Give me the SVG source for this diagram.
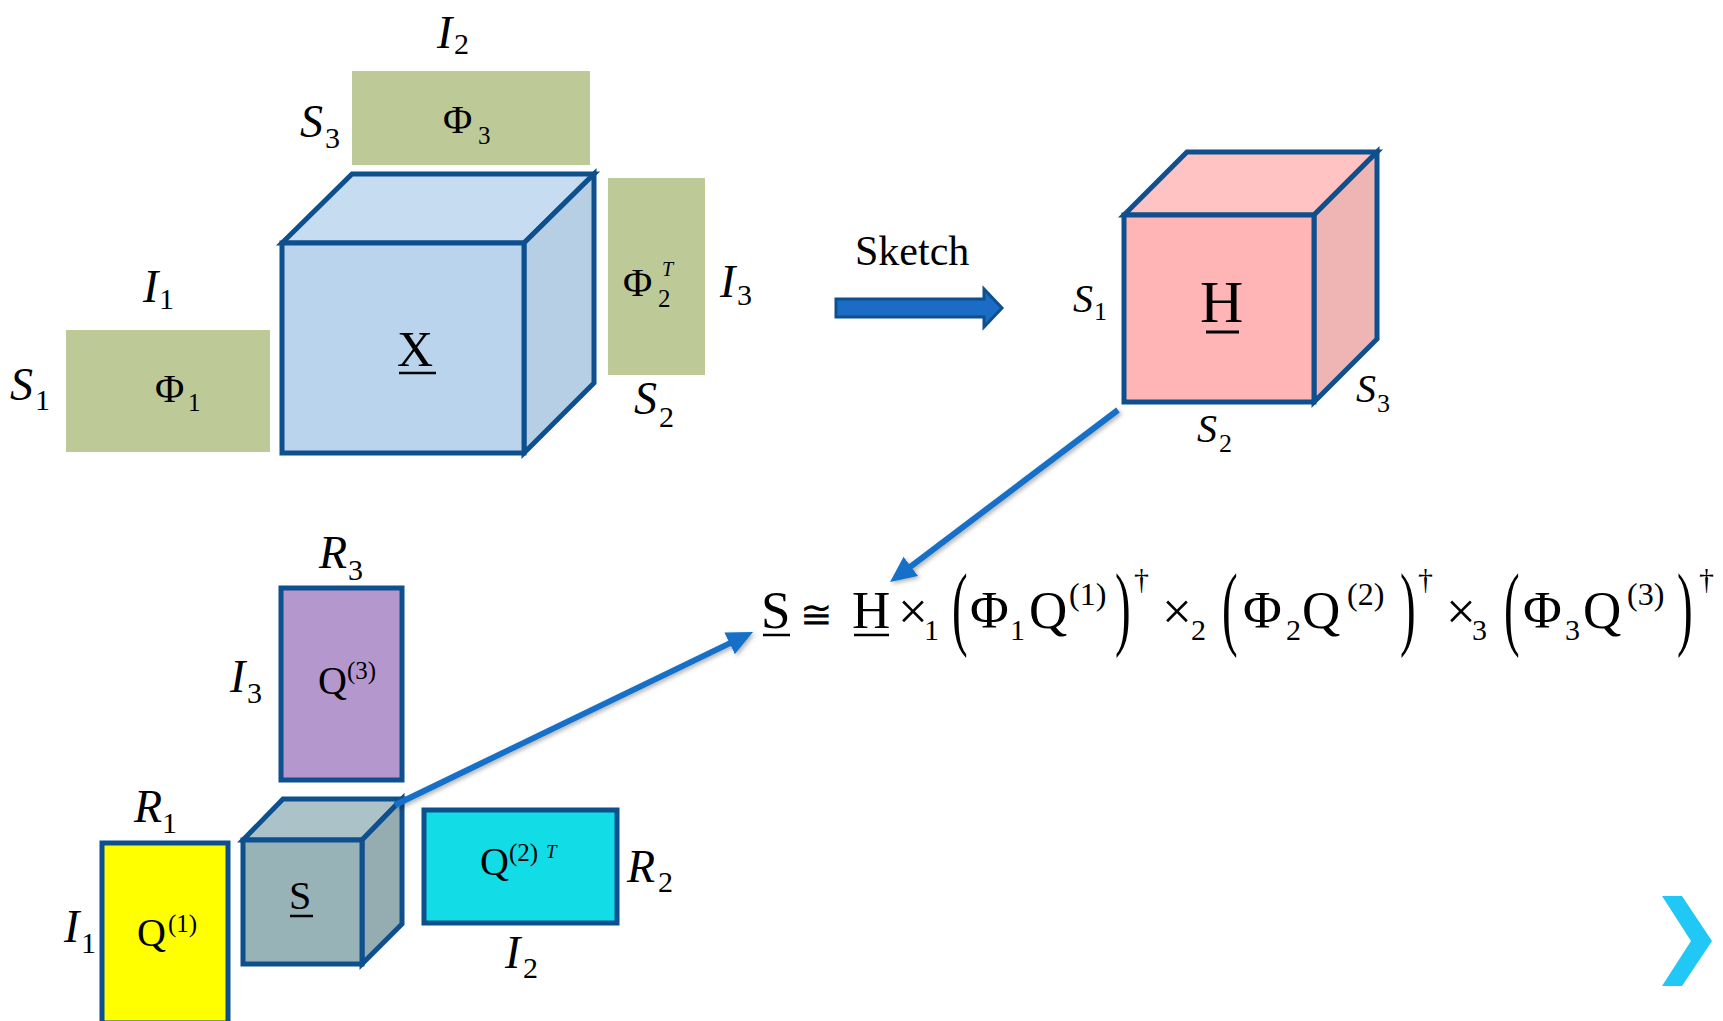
<svg xmlns="http://www.w3.org/2000/svg" width="1723" height="1021" viewBox="0 0 1723 1021">
<defs>
<style>
text{font-family:"Liberation Serif","Times New Roman","DejaVu Serif",serif;fill:#000}
.lab{font-style:italic;font-size:46px}
.lab .s{font-style:normal;font-size:30px}
.hl{font-style:italic;font-size:40px}
.hl .s{font-style:normal;font-size:26px}
.phi{font-size:40px}
.phi .s{font-size:25px}
.q{font-size:40px}
.q .s{font-size:25px}
.eq{font-size:53px}
.es{font-size:30px}
.ep{font-size:32px}
.big{font-size:94px}
.green{fill:#BDC996}
.edge{stroke:#0E4F8E;stroke-width:5;stroke-linejoin:miter}
.ul{stroke:#000;stroke-width:2.5}
.conn{stroke:#1570C8;stroke-width:6;fill:none}
</style>
<marker id="ah" markerUnits="userSpaceOnUse" markerWidth="26" markerHeight="24" viewBox="0 0 26 24" refX="4" refY="12" orient="auto">
<path d="M0,0 L26,12 L0,24 z" fill="#1570C8"/>
</marker>
<filter id="sh" x="-10%" y="-10%" width="130%" height="130%">
<feDropShadow dx="2" dy="2" stdDeviation="2" flood-color="#000" flood-opacity="0.3"/>
</filter>
</defs>

<!-- Top-left: tensor X with sketch matrices -->
<g id="phi3">
<rect class="green" x="352" y="71" width="238" height="94"/>
<text class="phi" x="443" y="133">Φ<tspan class="s" x="478" y="144">3</tspan></text>
</g>
<g id="phi1">
<rect class="green" x="66" y="330" width="204" height="122"/>
<text class="phi" x="155" y="402">Φ<tspan class="s" x="188" y="411">1</tspan></text>
</g>
<g id="phi2T">
<rect class="green" x="608" y="178" width="97" height="197"/>
<text class="phi" x="623" y="296">Φ<tspan class="s" x="658" y="307">2</tspan></text>
<text x="662" y="276" style="font-style:italic;font-size:20px">T</text>
</g>
<g id="cubeX">
<polygon points="282,243 352,174 594,174 524,243" fill="#C6DCF0" class="edge"/>
<polygon points="524,243 594,174 594,383 524,453" fill="#B7CFE5" class="edge"/>
<rect x="282" y="243" width="242" height="210" fill="#B9D4EC" class="edge"/>
<text x="397" y="366" style="font-size:50px">X</text>
<line class="ul" x1="399" y1="373" x2="436" y2="373"/>
</g>
<g id="labels-top">
<text class="lab" x="437" y="48">I<tspan class="s" x="454" y="54">2</tspan></text>
<text class="lab" x="300" y="137">S<tspan class="s" x="325" y="148">3</tspan></text>
<text class="lab" x="143" y="302">I<tspan class="s" x="159" y="309">1</tspan></text>
<text class="lab" x="10" y="400">S<tspan class="s" x="35" y="410">1</tspan></text>
<text class="lab" x="720" y="297">I<tspan class="s" x="737" y="305">3</tspan></text>
<text class="lab" x="634" y="414">S<tspan class="s" x="659" y="427">2</tspan></text>
</g>

<!-- Sketch arrow -->
<g id="sketch">
<polygon points="836,299 984,299 984,289 1002,308 984,327 984,317 836,317" fill="#1A6CC4" stroke="#0E4F8E" stroke-width="3"/>
<text x="855" y="265" style="font-size:42px">Sketch</text>
</g>

<!-- H cube -->
<g id="cubeH">
<polygon points="1124,215 1187,152 1377,152 1314,215" fill="#FFC3C3" class="edge"/>
<polygon points="1314,215 1377,152 1377,339 1314,402" fill="#EFB4B4" class="edge"/>
<rect x="1124" y="215" width="190" height="187" fill="#FFB4B5" class="edge"/>
<text x="1200" y="322" style="font-size:60px">H</text>
<line x1="1206" y1="332" x2="1239" y2="332" stroke="#000" stroke-width="3"/>
<text class="hl" x="1073" y="312">S<tspan class="s" x="1094" y="320">1</tspan></text>
<text class="hl" x="1197" y="442">S<tspan class="s" x="1219" y="452">2</tspan></text>
<text class="hl" x="1356" y="402">S<tspan class="s" x="1377" y="412">3</tspan></text>
</g>

<!-- Bottom: core S with factor matrices -->
<g id="q3">
<rect x="281" y="588" width="121" height="192" fill="#B497CD" class="edge"/>
<text class="q" x="318" y="694">Q<tspan class="s" x="347" y="679">(3)</tspan></text>
</g>
<g id="q1">
<rect x="102" y="843" width="126" height="180" fill="#FFFF00" class="edge"/>
<text class="q" x="137" y="946">Q<tspan class="s" x="168" y="932">(1)</tspan></text>
</g>
<g id="q2T">
<rect x="424" y="810" width="193" height="113" fill="#12DDE6" class="edge"/>
<text class="q" x="480" y="875">Q<tspan class="s" x="509" y="861">(2)</tspan></text>
<text x="546" y="858" style="font-style:italic;font-size:19px">T</text>
</g>
<g id="cubeS">
<polygon points="243,840 283,799 402,799 362,840" fill="#ABC3C8" class="edge"/>
<polygon points="362,840 402,799 402,924 362,964" fill="#95ADB0" class="edge"/>
<rect x="243" y="840" width="119" height="124" fill="#97B3B8" class="edge"/>
<text x="289" y="909" style="font-size:40px">S</text>
<line class="ul" x1="290" y1="916" x2="313" y2="916"/>
</g>
<g id="labels-bottom">
<text class="lab" x="319" y="568">R<tspan class="s" x="348" y="580">3</tspan></text>
<text class="lab" x="230" y="692">I<tspan class="s" x="247" y="703">3</tspan></text>
<text class="lab" x="134" y="822">R<tspan class="s" x="162" y="833">1</tspan></text>
<text class="lab" x="64" y="942">I<tspan class="s" x="81" y="953">1</tspan></text>
<text class="lab" x="627" y="882">R<tspan class="s" x="658" y="892">2</tspan></text>
<text class="lab" x="505" y="968">I<tspan class="s" x="523" y="978">2</tspan></text>
</g>

<!-- Equation -->
<g id="equation">
<text class="eq" x="761" y="628">S</text>
<line class="ul" x1="763" y1="635" x2="790" y2="635"/>
<text x="800" y="628" style="font-size:39px">≅</text>
<text class="eq" x="852" y="628">H</text>
<line class="ul" x1="854" y1="635" x2="889" y2="635"/>
<text class="eq" x="898" y="629">×<tspan class="es" x="924" y="640">1</tspan></text>
<text class="big" transform="translate(952,638) scale(0.5,1)">(</text>
<text class="eq" x="970" y="628">Φ<tspan class="es" x="1010" y="640">1</tspan><tspan x="1029" y="628">Q</tspan><tspan class="ep" x="1069" y="605">(1)</tspan></text>
<text class="big" transform="translate(1115,638) scale(0.5,1)">)</text>
<text class="es" x="1134" y="589">†</text>
<text class="eq" x="1162" y="629">×<tspan class="es" x="1191" y="640">2</tspan></text>
<text class="big" transform="translate(1222,638) scale(0.5,1)">(</text>
<text class="eq" x="1243" y="628">Φ<tspan class="es" x="1286" y="640">2</tspan><tspan x="1302" y="628">Q</tspan><tspan class="ep" x="1347" y="605">(2)</tspan></text>
<text class="big" transform="translate(1400,638) scale(0.5,1)">)</text>
<text class="es" x="1418" y="589">†</text>
<text class="eq" x="1446" y="629">×<tspan class="es" x="1472" y="640">3</tspan></text>
<text class="big" transform="translate(1504,638) scale(0.5,1)">(</text>
<text class="eq" x="1523" y="628">Φ<tspan class="es" x="1565" y="640">3</tspan><tspan x="1583" y="628">Q</tspan><tspan class="ep" x="1627" y="605">(3)</tspan></text>
<text class="big" transform="translate(1677,638) scale(0.5,1)">)</text>
<text class="es" x="1699" y="589">†</text>
</g>

<!-- Connectors -->
<g id="connectors" filter="url(#sh)">
<line class="conn" x1="1118" y1="410" x2="907.6" y2="568.8" marker-end="url(#ah)"/>
<line class="conn" x1="395" y1="805" x2="733.2" y2="641.6" marker-end="url(#ah)"/>
</g>

<!-- Next chevron -->
<g id="chevron">
<polygon points="1662,896 1682,896 1712,941 1682,986 1662,986 1691,941" fill="#22C8F5"/>
</g>
</svg>
